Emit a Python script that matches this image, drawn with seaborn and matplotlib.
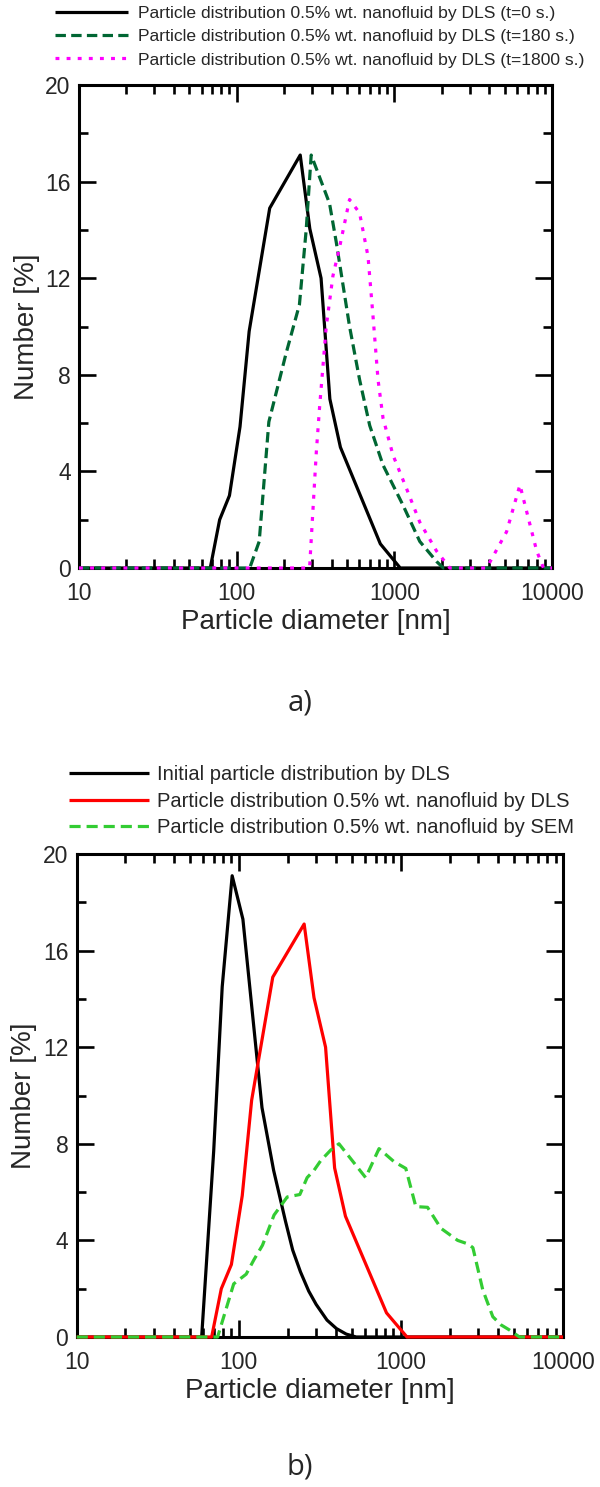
import numpy as np
import pandas as pd
import matplotlib
matplotlib.use("Agg")
import matplotlib.pyplot as plt
import seaborn as sns
from matplotlib.ticker import MultipleLocator, LogLocator, FixedLocator, FixedFormatter, NullFormatter

# ---------------- data ----------------
# Panel a) DLS of 0.5% wt. nanofluid at different times
a_t0_x = [10, 68, 78, 90, 105, 120, 162, 253, 291, 343, 390, 455, 815, 1090, 10000]
a_t0_y = [0, 0, 2.0, 3.0, 5.85, 9.8, 14.9, 17.1, 14.05, 12.0, 7.0, 5.0, 1.0, 0, 0]

a_t180_x = [10, 121, 139, 160, 206, 250, 276, 297, 388, 428, 520, 602, 698, 848, 1135, 1450, 1853, 2045, 10000]
a_t180_y = [0, 0, 1.1, 6.05, 8.9, 10.9, 14.0, 17.1, 15.1, 13.5, 10.0, 7.8, 5.9, 4.26, 2.6, 1.1, 0.27, 0, 0]

a_t1800_x = [10, 290, 320, 336, 370, 408, 450, 520, 602, 681, 733, 788, 848, 981, 1193, 1450, 1853, 2250,
             3850, 5150, 6260, 7080, 8000, 8830, 10000]
a_t1800_y = [0, 0, 4.8, 6.7, 10.0, 12.1, 13.3, 15.26, 14.7, 12.9, 10.4, 7.8, 6.2, 4.67, 3.3, 1.9, 0.7, 0,
             0, 1.5, 3.44, 2.06, 0.7, 0, 0]

# Panel b)
b_init_x = [10, 59, 70, 79, 91, 106, 139, 164, 194, 215, 240, 270, 300, 350, 400, 460, 530, 10000]
b_init_y = [0, 0, 7.7, 14.5, 19.1, 17.3, 9.5, 6.9, 4.8, 3.6, 2.7, 1.9, 1.35, 0.7, 0.35, 0.12, 0, 0]

b_dls_x = a_t0_x
b_dls_y = a_t0_y

b_sem_x = [10, 74, 93, 111, 124, 140, 165, 199, 238, 264, 291, 320, 369, 415, 606, 733, 907, 1072,
           1236, 1460, 1766, 2240, 2600, 2780, 3200, 3690, 4150, 4675, 5390, 10000]
b_sem_y = [0, 0, 2.2, 2.6, 3.2, 3.8, 5.05, 5.8, 5.9, 6.6, 6.9, 7.3, 7.74, 8.0, 6.6, 7.8, 7.26, 6.98,
           5.4, 5.37, 4.5, 4.0, 3.85, 3.7, 1.95, 0.84, 0.5, 0.29, 0, 0]

a_labels = ["Particle distribution 0.5% wt. nanofluid by DLS (t=0 s.)",
            "Particle distribution 0.5% wt. nanofluid by DLS (t=180 s.)",
            "Particle distribution 0.5% wt. nanofluid by DLS (t=1800 s.)"]
b_labels = ["Initial particle distribution by DLS",
            "Particle distribution 0.5% wt. nanofluid by DLS",
            "Particle distribution 0.5% wt. nanofluid by SEM"]

x_ticks = [10, 100, 1000, 10000]
x_ticklabels = ["10", "100", "1000", "10000"]
y_ticks = [0, 4, 8, 12, 16, 20]

# ---------------- style ----------------
sns.set_style("ticks")
plt.rcParams['font.family'] = ['Liberation Sans', 'DejaVu Sans']
plt.rcParams['lines.scale_dashes'] = False

W, H = 600, 1487
fig = plt.figure(figsize=(W / 100, H / 100), dpi=100)

def fx(px):
    return px / W

def fy(py):
    return 1 - py / H

ax_a = fig.add_axes([fx(79), fy(568), (552 - 79) / W, (568 - 85) / H])
ax_b = fig.add_axes([fx(76.7), fy(1337), (563 - 76.7) / W, (1337 - 854) / H])

def draw(ax, x, y, color, label, dashes):
    df = pd.DataFrame({"x": x, "y": y})
    sns.lineplot(data=df, x="x", y="y", ax=ax, color=color, lw=2.3, label=label,
                 estimator=None, sort=False)
    ln = ax.lines[-1]
    if dashes is not None:
        ln.set_dashes(dashes)
    ln.set_clip_on(False)
    ln.set_zorder(3)
    ln.set_solid_capstyle('butt')
    ln.set_dash_capstyle('butt')

draw(ax_a, a_t0_x, a_t0_y, "black", a_labels[0], None)
draw(ax_a, a_t180_x, a_t180_y, "#006633", a_labels[1], (7.5, 3.8))
draw(ax_a, a_t1800_x, a_t1800_y, "#ff00ff", a_labels[2], (2.8, 5.2))

draw(ax_b, b_init_x, b_init_y, "black", b_labels[0], None)
draw(ax_b, b_dls_x, b_dls_y, "#ff0000", b_labels[1], None)
draw(ax_b, b_sem_x, b_sem_y, "#33cc33", b_labels[2], (8.0, 4.3))

for ax in (ax_a, ax_b):
    ax.set_xscale("log")
    ax.set_xlim(10, 10000)
    ax.set_ylim(0, 20)
    ax.xaxis.set_major_locator(FixedLocator(x_ticks))
    ax.xaxis.set_major_formatter(FixedFormatter(x_ticklabels))
    ax.xaxis.set_minor_locator(LogLocator(base=10, subs=np.arange(2, 10)))
    ax.xaxis.set_minor_formatter(NullFormatter())
    ax.set_yticks(y_ticks)
    ax.yaxis.set_minor_locator(MultipleLocator(2))
    ax.tick_params(which='both', direction='in', top=True, right=True, width=1.9, color='black')
    ax.tick_params(which='major', length=12.5, labelsize=16.5)
    ax.tick_params(which='minor', length=6.5)
    ax.tick_params(axis='x', which='major', pad=10)
    ax.tick_params(axis='y', which='major', pad=6)
    for s in ax.spines.values():
        s.set_linewidth(2.2)
        s.set_color('black')
        s.set_visible(True)
    ax.set_xlabel("Particle diameter [nm]", fontsize=20, labelpad=3)
    ax.set_ylabel("Number [%]", fontsize=20, labelpad=4)

leg_a = ax_a.legend(loc='upper left', bbox_to_anchor=(fx(55), fy(6)), bbox_transform=fig.transFigure,
                    frameon=False, fontsize=12.6, handlelength=4.15, handletextpad=0.57,
                    labelspacing=0.45, borderpad=0, borderaxespad=0)
leg_b = ax_b.legend(loc='upper left', bbox_to_anchor=(fx(69), fy(765)), bbox_transform=fig.transFigure,
                    frameon=False, fontsize=14.5, handlelength=3.95, handletextpad=0.4,
                    labelspacing=0.38, borderpad=0, borderaxespad=0)
for leg in (leg_a, leg_b):
    for h in leg.get_lines():
        h.set_linewidth(2.3)

fig.text(fx(300), fy(703), "a)", ha='center', va='center', fontsize=21, family=['Open Sans', 'DejaVu Sans'])
fig.text(fx(300), fy(1467), "b)", ha='center', va='center', fontsize=21, family=['Open Sans', 'DejaVu Sans'])

fig.savefig("out.png", dpi=100)
